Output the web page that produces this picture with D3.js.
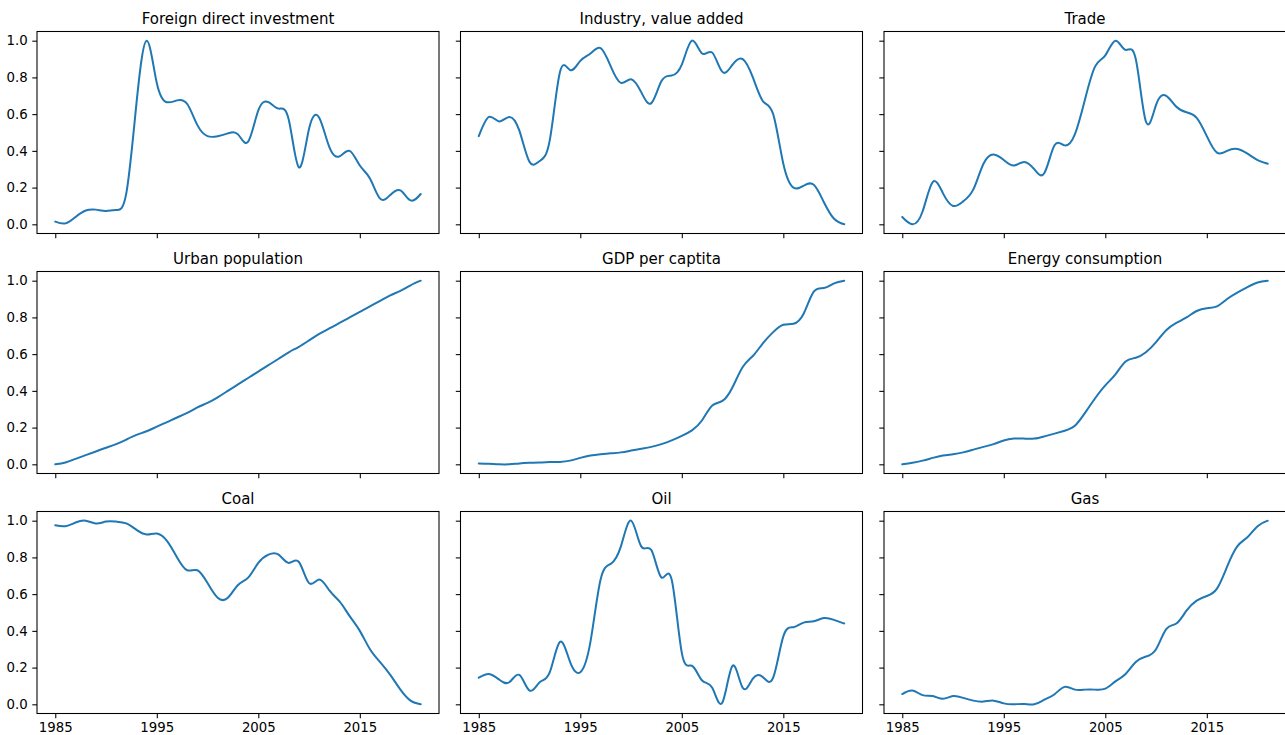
<!DOCTYPE html>
<html>
<head>
<meta charset="utf-8">
<script src="https://cdn.jsdelivr.net/npm/d3@7"></script>
<style>
  html, body { margin: 0; padding: 0; background: #ffffff; }
  svg { display: block; }
  text { font-family: "DejaVu Sans", sans-serif; fill: #000; }
</style>
</head>
<body>
<svg id="chart" width="1285" height="735"></svg>
<script>
// Years shared by every panel
const years = d3.range(1985, 2022);

// Normalised (min-max) indicator series, one value per year
const foreignDirectInvestment = [0.015, 0.005, 0.04, 0.075, 0.08, 0.073, 0.078, 0.17, 0.66, 1.0, 0.77, 0.665, 0.675, 0.655, 0.54, 0.48, 0.48, 0.495, 0.49, 0.45, 0.62, 0.665, 0.63, 0.57, 0.31, 0.52, 0.58, 0.42, 0.37, 0.40, 0.32, 0.25, 0.14, 0.16, 0.185, 0.13, 0.165];
const industryValueAdded = [0.48, 0.585, 0.56, 0.585, 0.51, 0.34, 0.345, 0.46, 0.83, 0.84, 0.89, 0.93, 0.96, 0.86, 0.77, 0.79, 0.72, 0.66, 0.78, 0.81, 0.87, 1.0, 0.93, 0.935, 0.83, 0.87, 0.9, 0.8, 0.67, 0.6, 0.33, 0.2, 0.21, 0.215, 0.12, 0.03, 0.0];
const trade = [0.04, 0.0, 0.07, 0.23, 0.17, 0.1, 0.125, 0.19, 0.33, 0.38, 0.35, 0.32, 0.34, 0.3, 0.28, 0.43, 0.43, 0.49, 0.68, 0.86, 0.92, 1.0, 0.95, 0.9, 0.56, 0.65, 0.7, 0.64, 0.61, 0.58, 0.48, 0.39, 0.4, 0.41, 0.385, 0.35, 0.33];
const urbanPopulation = [0.0, 0.01, 0.03, 0.05, 0.07, 0.09, 0.11, 0.135, 0.16, 0.18, 0.205, 0.23, 0.255, 0.28, 0.31, 0.335, 0.365, 0.4, 0.435, 0.47, 0.505, 0.54, 0.575, 0.61, 0.64, 0.675, 0.71, 0.74, 0.77, 0.8, 0.83, 0.86, 0.89, 0.92, 0.945, 0.975, 1.0];
const gdpPerCapita = [0.005, 0.003, 0.0, 0.0, 0.005, 0.008, 0.01, 0.012, 0.013, 0.02, 0.035, 0.048, 0.055, 0.06, 0.065, 0.075, 0.085, 0.095, 0.11, 0.13, 0.155, 0.185, 0.24, 0.32, 0.345, 0.42, 0.53, 0.59, 0.66, 0.72, 0.76, 0.765, 0.82, 0.94, 0.96, 0.985, 1.0];
const energyConsumption = [0.0, 0.008, 0.02, 0.035, 0.048, 0.055, 0.065, 0.08, 0.095, 0.11, 0.13, 0.14, 0.14, 0.14, 0.152, 0.167, 0.183, 0.21, 0.28, 0.36, 0.43, 0.49, 0.56, 0.58, 0.61, 0.665, 0.73, 0.77, 0.8, 0.835, 0.85, 0.86, 0.9, 0.935, 0.965, 0.99, 1.0];
const coal = [0.975, 0.97, 0.99, 1.0, 0.985, 0.995, 0.995, 0.985, 0.95, 0.925, 0.93, 0.89, 0.8, 0.73, 0.73, 0.66, 0.58, 0.58, 0.65, 0.69, 0.77, 0.815, 0.815, 0.77, 0.775, 0.66, 0.68, 0.62, 0.56, 0.48, 0.4, 0.3, 0.23, 0.16, 0.08, 0.02, 0.0];
const oil = [0.145, 0.165, 0.135, 0.12, 0.16, 0.075, 0.12, 0.175, 0.34, 0.23, 0.175, 0.34, 0.68, 0.765, 0.86, 1.0, 0.86, 0.84, 0.69, 0.68, 0.28, 0.21, 0.13, 0.09, 0.01, 0.21, 0.09, 0.14, 0.148, 0.145, 0.37, 0.42, 0.445, 0.452, 0.47, 0.46, 0.44];
const gas = [0.056, 0.075, 0.05, 0.045, 0.03, 0.045, 0.035, 0.02, 0.015, 0.02, 0.005, 0.0, 0.002, 0.0, 0.025, 0.055, 0.095, 0.08, 0.08, 0.08, 0.085, 0.125, 0.165, 0.23, 0.26, 0.3, 0.41, 0.44, 0.51, 0.565, 0.59, 0.63, 0.75, 0.86, 0.91, 0.97, 1.0];

// Panel titles, in grid order (row by row)
const titles = ["Foreign direct investment", "Industry, value added", "Trade",
                "Urban population", "GDP per captita", "Energy consumption",
                "Coal", "Oil", "Gas"];
const seriesList = [foreignDirectInvestment, industryValueAdded, trade,
                    urbanPopulation, gdpPerCapita, energyConsumption,
                    coal, oil, gas];

// Tick values
const xTicks = [1985, 1995, 2005, 2015];
const yTicks = [0, 0.2, 0.4, 0.6, 0.8, 1.0];

// Grid geometry
const colLeft = [37, 460.5, 884];
const rowTop = [31.5, 271.5, 511.5];
const panelW = 402;
const panelH = 202;
const tickLen = 4.7;
const tickPad = 4.7;

const svg = d3.select("#chart");

const x = d3.scaleLinear().domain([1983.2, 2022.8]).range([0, panelW]);
const y = d3.scaleLinear().domain([-0.05, 1.05]).range([panelH, 0]);

const line = d3.line()
  .x(d => x(d[0]))
  .y(d => y(d[1]))
  .curve(d3.curveNatural);

seriesList.forEach((values, i) => {
  const row = Math.floor(i / 3), col = i % 3;
  const g = svg.append("g")
    .attr("transform", `translate(${colLeft[col]},${rowTop[row]})`);

  // x axis ticks (labels on the bottom row only)
  const xAxis = d3.axisBottom(x)
    .tickValues(xTicks)
    .tickSize(tickLen)
    .tickPadding(tickPad)
    .tickFormat(row === 2 ? d3.format("d") : () => "");
  const gx = g.append("g")
    .attr("transform", `translate(0,${panelH})`)
    .call(xAxis);

  // y axis ticks (labels on the left column only)
  const yAxis = d3.axisLeft(y)
    .tickValues(yTicks)
    .tickSize(tickLen)
    .tickPadding(tickPad)
    .tickFormat(col === 0 ? d3.format(".1f") : () => "");
  const gy = g.append("g").call(yAxis);

  [gx, gy].forEach(a => {
    a.select(".domain").remove();
    a.selectAll(".tick line").attr("stroke", "#000").attr("stroke-width", 1.07);
    a.selectAll(".tick text")
      .attr("fill", "#000")
      .style("font-family", "'DejaVu Sans', sans-serif")
      .style("font-size", "13.3px");
  });

  // series line
  const pts = years.map((yr, k) => [yr, values[k]]);
  g.append("path")
    .datum(pts)
    .attr("fill", "none")
    .attr("stroke", "#1f77b4")
    .attr("stroke-width", 2)
    .attr("stroke-linejoin", "round")
    .attr("stroke-linecap", "round")
    .attr("d", line);

  // axes frame
  g.append("rect")
    .attr("x", 0).attr("y", 0)
    .attr("width", panelW).attr("height", panelH)
    .attr("fill", "none")
    .attr("stroke", "#000")
    .attr("stroke-width", 1.07);

  // panel title
  g.append("text")
    .attr("x", panelW / 2)
    .attr("y", -8)
    .attr("text-anchor", "middle")
    .style("font-size", "15px")
    .text(titles[i]);
});
</script>
</body>
</html>
